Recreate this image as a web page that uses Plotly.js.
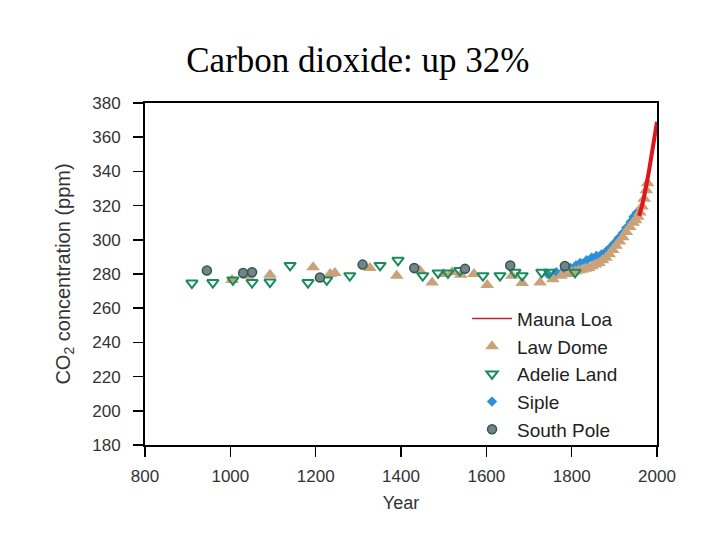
<!DOCTYPE html>
<html>
<head>
<meta charset="utf-8">
<script src="https://cdn.plot.ly/plotly-3.0.1.min.js"></script>
<style>html,body{margin:0;padding:0;background:#fff;}#chart{width:720px;height:540px;}</style>
</head>
<body>
<div id="chart"></div>
<script>
// Mauna Loa (line)
const maunaLoaYears = [1958, 1960, 1965, 1970, 1975, 1980, 1985, 1990, 1995, 2000];
const maunaLoaPpm   = [314, 316.5, 320, 325.5, 331, 338.5, 346, 354, 361.5, 369];

// Law Dome (up triangles)
const lawDomeYears = [1004, 1041, 1093, 1194, 1234, 1245, 1327, 1390, 1444, 1473, 1500, 1520, 1540, 1571, 1602, 1660, 1684, 1726, 1756,
  1775, 1790, 1800, 1808, 1816, 1824, 1832, 1840, 1848, 1856, 1864, 1872, 1880, 1888, 1896, 1904, 1912, 1920, 1928, 1936, 1944, 1950, 1955, 1960, 1965, 1970, 1975, 1978];
const lawDomePpm = [276.5, 279, 279.5, 284, 280, 280.6, 283.5, 279, 282, 275, 280, 281, 279.5, 280, 273.6, 279, 274.7, 275, 277,
  279, 280, 281, 281.5, 282, 282.5, 283, 283.5, 284.5, 285.5, 286.5, 288, 289.5, 291.5, 294, 296.5, 299, 301.5, 304.5, 307.5, 310, 311.5, 313.5, 316, 319.5, 324, 329, 333];

// Adelie Land (down triangles)
const adelieYears = [910, 959, 1006, 1051, 1093, 1140, 1182, 1226, 1280, 1351, 1393, 1451, 1487, 1510, 1538, 1592, 1632, 1667, 1684, 1730, 1748, 1808];
const adeliePpm   = [274.7, 275, 276.5, 275, 275.3, 285, 275, 276.5, 279, 285, 288, 279, 280.6, 280.6, 282, 279, 279, 281, 279, 281, 281, 281];

// Siple (diamonds)
const sipleYears = [1744, 1764, 1782, 1797, 1810, 1820, 1835, 1847, 1858, 1870, 1882, 1891, 1900, 1910, 1920, 1928, 1938, 1945, 1953];
const siplePpm   = [280, 281, 282, 283.5, 285, 286.5, 288, 289.5, 290.5, 291.5, 293.5, 295.5, 298, 301, 304, 307, 310.5, 313.5, 316];

// South Pole (circles)
const southPoleYears = [945, 1030, 1051, 1210, 1310, 1431, 1550, 1656, 1784];
const southPolePpm   = [282, 280.6, 281, 278, 285.5, 283.5, 283, 285, 284.7];

const xTicks = [800, 1000, 1200, 1400, 1600, 1800, 2000];
const yTicks = [180, 200, 220, 240, 260, 280, 300, 320, 340, 360, 380];

const sans = '"Liberation Sans", Arial, sans-serif';

const traces = [
  {x: sipleYears, y: siplePpm, name: 'Siple', mode: 'markers', type: 'scatter', legendrank: 4,
   marker: {symbol: 'diamond', size: 8, color: '#2a90dc', line: {width: 0}}},
  {x: lawDomeYears, y: lawDomePpm, name: 'Law Dome', mode: 'markers', type: 'scatter', legendrank: 2,
   marker: {symbol: 'triangle-up', size: 12, color: '#c9a27a', line: {width: 0}}},
  {x: adelieYears, y: adeliePpm, name: 'Adelie Land', mode: 'markers', type: 'scatter', legendrank: 3,
   marker: {symbol: 'triangle-down-open', size: 10, color: '#1b8a5e', line: {width: 2}}},
  {x: southPoleYears, y: southPolePpm, name: 'South Pole', mode: 'markers', type: 'scatter', legendrank: 5,
   marker: {symbol: 'circle', size: 9, color: '#74828a', line: {width: 1.5, color: '#2e5a4c'}}},
  {x: maunaLoaYears, y: maunaLoaPpm, name: 'Mauna Loa', mode: 'lines', type: 'scatter', showlegend: false,
   line: {color: '#e0141c', width: 4}},
  {x: [null], y: [null], name: 'Mauna Loa', mode: 'lines', type: 'scatter', legendrank: 1,
   line: {color: '#c8203a', width: 1.5}}
];

const layout = {
  width: 720, height: 540,
  paper_bgcolor: '#ffffff', plot_bgcolor: '#ffffff',
  margin: {l: 145, r: 63, t: 103, b: 95},
  title: {text: 'Carbon dioxide: up 32%', font: {family: '"Liberation Serif", "Times New Roman", serif', size: 35, color: '#000'},
          x: 0.497, xanchor: 'center', y: 0.889, yanchor: 'middle'},
  showlegend: true,
  legend: {x: 0.629, xanchor: 'left', y: 0.425, yanchor: 'top', bgcolor: 'rgba(0,0,0,0)', traceorder: 'normal', tracegroupgap: 0,
           font: {family: sans, size: 19, color: '#222'}, itemwidth: 40},
  xaxis: {range: [800, 2000], tickvals: xTicks, ticktext: xTicks.map(String), ticks: 'outside', ticklen: 10, tickwidth: 1.5,
          tickcolor: '#000', showline: true, linecolor: '#000', linewidth: 2, mirror: true, showgrid: false, zeroline: false,
          ticklabelstandoff: 5,
          tickfont: {family: sans, size: 17, color: '#333'},
          title: {text: 'Year', font: {family: sans, size: 18, color: '#333'}, standoff: 11}},
  yaxis: {range: [180, 380], tickvals: yTicks, ticktext: yTicks.map(String), ticks: 'outside', ticklen: 10, tickwidth: 1.5,
          tickcolor: '#000', showline: true, linecolor: '#000', linewidth: 2, mirror: true, showgrid: false, zeroline: false,
          ticklabelstandoff: 9,
          tickfont: {family: sans, size: 17, color: '#333'},
          title: {text: 'CO<sub>2</sub> concentration (ppm)', font: {family: sans, size: 20, color: '#333'}, standoff: 16}}
};

Plotly.newPlot('chart', traces, layout, {displayModeBar: false, staticPlot: true});
</script>
</body>
</html>
